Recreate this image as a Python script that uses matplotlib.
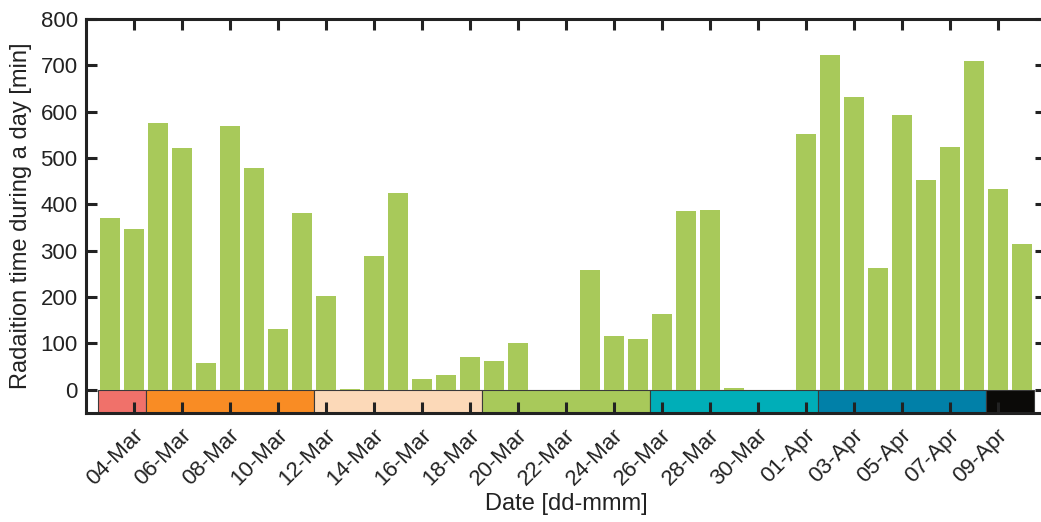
import matplotlib
matplotlib.use('Agg')
import matplotlib.pyplot as plt
import matplotlib.transforms as mtransforms
import pandas as pd

# daily radiation time, 03-Mar to 10-Apr
dates = pd.date_range('2021-03-03', '2021-04-10', freq='D')
radiation_min = [370, 346, 575, 521, 57, 570, 478, 132, 381, 202,
                 2, 288, 424, 23, 32, 70, 62, 101, 0.5, 0.5,
                 258, 116, 109, 163, 385, 387, 3, 0.5, 0.5, 551,
                 723, 631, 262, 592, 452, 523, 710, 434, 314]

# week bands drawn under the bars
week_lengths = [2, 7, 7, 7, 7, 7, 2]
week_colors = ['#F0716A', '#F98C24', '#FCD9B8', '#A8C95A',
               '#00AEB8', '#0180A8', '#0B0A08']

bar_color = '#A8C95A'
ink = '#222222'

plt.rcParams['font.family'] = ['Liberation Sans', 'DejaVu Sans']
plt.rcParams['font.size'] = 16

fig = plt.figure(figsize=(10.41, 5.22), dpi=100)
ax = fig.add_axes([86 / 1041, 1 - 413 / 522, 960 / 1041, 394 / 522])

x = list(range(len(dates)))
ax.bar(x, radiation_min, width=0.83, color=bar_color, zorder=2)

# colored week strip below zero
start = -0.5
for n, c in zip(week_lengths, week_colors):
    ax.bar(start, 50, width=n, bottom=-50, align='edge', color=c,
           edgecolor='#3a3a3a', linewidth=0.8, zorder=1)
    start += n

ax.set_xlim(-1, len(dates))
ax.set_ylim(-50, 800)
ax.set_yticks(range(0, 801, 100))

tick_idx = x[1::2]
ax.set_xticks(tick_idx)
ax.set_xticklabels([dates[i].strftime('%d-%b') for i in tick_idx],
                   rotation=45, ha='right', va='center', rotation_mode='anchor')

for s in ax.spines.values():
    s.set_linewidth(2.2)
    s.set_color(ink)
    s.set_zorder(5)
ax.tick_params(direction='in', length=8, width=2.2, color=ink,
               top=True, right=True, pad=6, labelcolor=ink)
ax.tick_params(axis='x', pad=14)

ax.set_ylabel('Radaition time during a day [min]', color=ink, fontsize=17, labelpad=6)
ax.set_xlabel('Date [dd-mmm]', color=ink, fontsize=17, labelpad=2)

# nudge the rotated date labels a little to the right
fig.canvas.draw()
shift = mtransforms.ScaledTranslation(6 / 100, 0, fig.dpi_scale_trans)
for lbl in ax.get_xticklabels():
    lbl.set_transform(lbl.get_transform() + shift)

fig.savefig('out.png', dpi=100)
